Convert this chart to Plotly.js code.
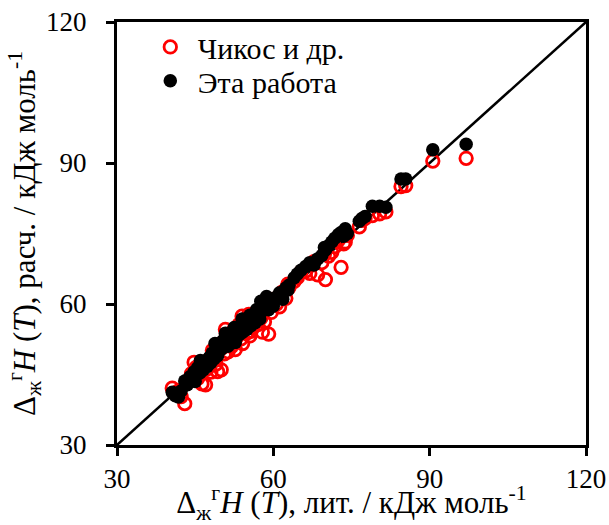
<!DOCTYPE html>
<html>
<head>
<meta charset="utf-8">
<script src="https://cdn.plot.ly/plotly-3.0.1.min.js"></script>
<style>html,body{margin:0;padding:0;background:#fff;}#chart{width:609px;height:525px;}</style>
</head>
<body>
<div id="chart"></div>
<script>
// Literature values (x), kJ/mol
const litValues = [40.6, 41.2, 41.8, 42.3, 43.0, 43.5, 44.0, 44.3, 44.8, 45.2, 45.5, 45.9, 46.3, 46.6, 47.0, 47.3, 47.7, 48.0, 48.3, 48.6, 49.0, 49.3, 49.6, 50.0, 50.3, 50.6, 51.0, 51.3, 51.6, 52.0, 52.3, 52.7, 53.0, 53.4, 53.8, 54.1, 54.5, 54.9, 55.3, 55.7, 56.1, 56.5, 57.0, 57.4, 57.9, 58.3, 58.7, 59.1, 59.6, 60.0, 60.6, 61.2, 61.8, 62.4, 63.0, 64.0, 64.6, 65.3, 66.2, 67.0, 67.8, 68.5, 69.3, 70.0, 70.6, 71.2, 71.8, 72.5, 73.0, 73.5, 74.2, 76.5, 77.0, 77.6, 79.0, 80.4, 81.6, 84.5, 85.4, 90.6, 97.0,
  46.0, 48.8, 50.8, 52.5, 54.0, 55.5, 56.8, 57.6, 45.0, 62.8, 69.8, 73.8];
// Calculated, Chickos et al. (red open circles)
const chickosValues = [42.1, 41.0, 41.5, 40.3, 38.8, 43.6, 44.0, 45.2, 47.6, 46.5, 44.2, 45.8, 43.0, 47.4, 42.8, 46.2, 48.2, 45.5, 50.1, 49.0, 47.2, 45.6, 51.4, 46.0, 50.8, 49.4, 53.5, 49.8, 52.4, 51.0, 54.3, 50.3, 53.0, 55.6, 52.6, 51.6, 56.5, 53.8, 57.8, 54.2, 55.0, 57.2, 55.6, 58.4, 54.0, 56.2, 59.0, 53.6, 58.2, 61.0, 60.0, 59.4, 62.6, 61.2, 63.5, 64.8, 65.6, 66.8, 67.0, 66.5, 69.0, 66.2, 68.8, 65.2, 70.2, 71.0, 72.2, 73.6, 67.8, 72.8, 74.6, 76.4, 77.8, 78.2, 78.8, 79.2, 79.6, 85.0, 85.2, 90.4, 91.0,
  46.8, 48.0, 54.6, 52.0, 57.4, 53.2, 56.6, 57.0, 44.0, 64.2, 70.6, 73.2];
// Calculated, this work (black filled circles)
const thisWorkValues = [41.2, 40.5, 40.2, 41.5, 43.6, 42.8, 44.5, 43.8, 45.6, 44.9, 46.5, 45.3, 47.2, 46.0, 47.8, 46.7, 48.6, 47.5, 49.6, 48.3, 50.2, 49.0, 51.0, 50.4, 52.2, 51.5, 52.8, 51.0, 53.6, 52.0, 53.0, 51.8, 54.6, 53.4, 55.2, 54.0, 55.8, 54.6, 56.5, 55.4, 57.0, 56.0, 57.8, 56.8, 58.5, 59.8, 61.6, 58.8, 60.5, 59.6, 61.5, 62.4, 61.0, 63.4, 64.0, 65.6, 66.4, 67.2, 68.0, 68.8, 68.3, 69.6, 70.3, 71.5, 72.4, 73.2, 74.0, 74.8, 75.2, 74.4, 75.0, 77.6, 78.2, 78.6, 80.8, 80.8, 80.6, 86.6, 86.6, 92.8, 94.0,
  48.0, 51.6, 53.8, 55.0, 56.8, 57.6, 58.8, 60.6, 43.5, 63.0, 72.0, 76.0];
const seriesNames = ["Чикос и др.", "Эта работа"];
const diagonal = [30, 120];
const tickVals = [30, 60, 90, 120];

const FAMILY = "Liberation Serif, Times New Roman, serif";
const tickFont = {family: FAMILY, color: "#000", size: 27};
const titleFont = {family: FAMILY, color: "#000", size: 31};
const legendFont = {family: FAMILY, color: "#000", size: 30};

const traces = [
  {x: diagonal, y: diagonal, mode: "lines", line: {color: "#000", width: 2.5}, showlegend: false, hoverinfo: "skip"},
  {x: litValues, y: chickosValues, mode: "markers", name: seriesNames[0], legend: "legend",
   marker: {symbol: "circle-open", size: 12.5, color: "#ff0000", line: {width: 2.8, color: "#ff0000"}}},
  {x: litValues, y: thisWorkValues, mode: "markers", name: seriesNames[1], legend: "legend2",
   marker: {symbol: "circle", size: 13.5, color: "#000"}}
];

const axisCommon = {
  range: [30, 120], tickvals: tickVals, ticks: "outside", ticklen: 8, tickwidth: 3, tickcolor: "#000",
  showline: true, linewidth: 3, linecolor: "#000", mirror: true, showgrid: false, zeroline: false,
  tickfont: tickFont
};

const legendCommon = {x: 0.055, xanchor: "left", yanchor: "middle", bgcolor: "rgba(0,0,0,0)",
                      font: legendFont, itemwidth: 45, borderwidth: 0};

const layout = {
  width: 609, height: 525,
  margin: {l: 117, r: 23, t: 22, b: 80},
  paper_bgcolor: "#fff", plot_bgcolor: "#fff",
  font: {family: FAMILY, color: "#000", size: 27},
  showlegend: true,
  legend: Object.assign({}, legendCommon, {y: 0.941}),
  legend2: Object.assign({}, legendCommon, {y: 0.861}),
  xaxis: Object.assign({}, axisCommon, {
    title: {text: "Δ<sub>ж</sub><sup>г</sup><i>H</i> (<i>T</i>), лит. / кДж моль<sup>-1</sup>", font: titleFont, standoff: 4}
  }),
  yaxis: Object.assign({}, axisCommon, {
    ticklabelstandoff: 14,
    title: {text: "\u00a0\u00a0\u00a0\u00a0\u00a0Δ<sub>ж</sub><sup>г</sup><i>H</i> (<i>T</i>), расч. / кДж моль<sup>-1</sup>", font: titleFont, standoff: 2}
  })
};

Plotly.newPlot("chart", traces, layout, {displayModeBar: false, staticPlot: true});
</script>
</body>
</html>
